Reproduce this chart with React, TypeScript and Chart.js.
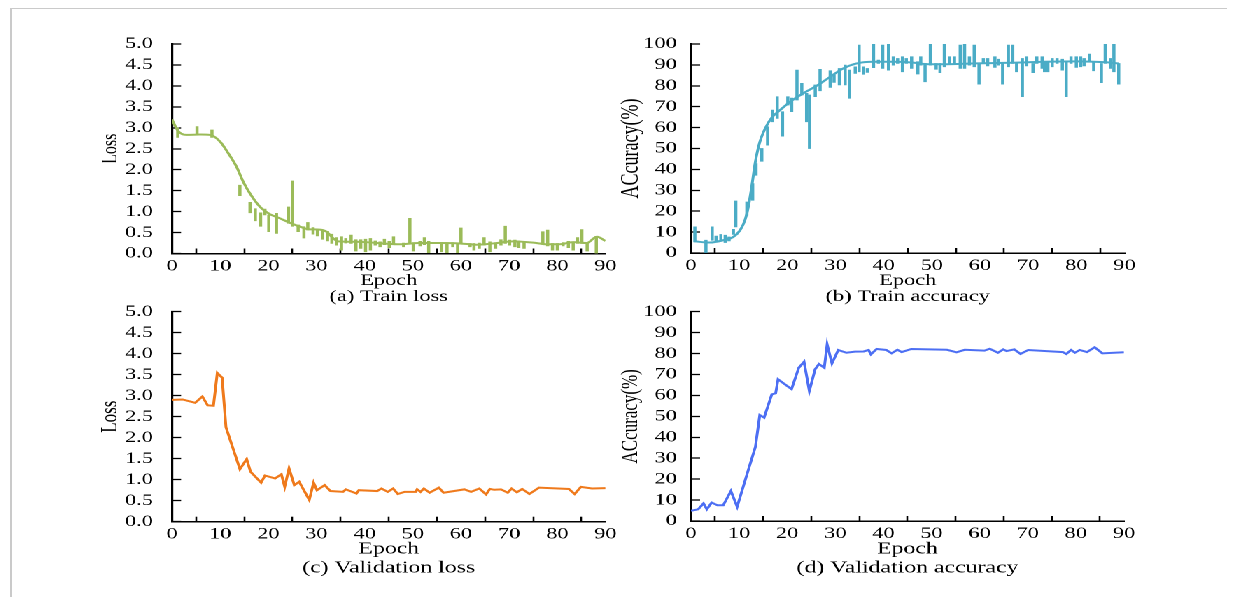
import React, { useEffect, useRef } from "react";
import { Chart, registerables } from "chart.js";

Chart.register(...registerables);

// ---------------- data ----------------
const epochMin = 0;
const epochMax = 90;
const epochStep = 10;

// (a) Train loss: smoothed curve
const trainLossCurveX = [0, 1.3, 3, 5.8, 7.9, 10, 11.7, 13.4, 14.8, 16.2, 18.3, 20.3, 22.4, 24.5, 26.6, 28.3, 30.7, 32.1, 33.5, 34.5, 37.6, 40.4, 43.9, 47.3, 51.5, 55.6, 59.8, 63.2, 66.7, 70.8, 75, 77.8, 80.5, 83.3, 86.1, 88.2, 90];
const trainLossCurveY = [3.2, 2.92, 2.83, 2.84, 2.83, 2.67, 2.39, 2.07, 1.71, 1.43, 1.11, 0.94, 0.84, 0.73, 0.64, 0.58, 0.57, 0.52, 0.36, 0.29, 0.28, 0.27, 0.24, 0.22, 0.25, 0.25, 0.24, 0.21, 0.24, 0.29, 0.26, 0.22, 0.22, 0.27, 0.25, 0.4, 0.3];
// (a) Train loss: per-epoch spread (vertical segments)
const trainLossBarX = [1.2, 5.2, 8.3, 14.1, 16.2, 17.3, 18.4, 19.3, 20.1, 21.7, 24.2, 25.0, 26.2, 27.4, 28.2, 29.3, 30.2, 31.3, 32.3, 33.2, 34.2, 35.2, 36.1, 37.2, 38.2, 39.2, 40.2, 41.2, 42.2, 43.2, 44.1, 45.1, 46.0, 48.1, 49.4, 50.1, 51.5, 52.4, 53.3, 56.0, 57.1, 58.3, 59.3, 60.0, 61.9, 62.7, 63.8, 64.8, 66.0, 67.2, 68.3, 69.2, 70.1, 71.2, 72.0, 73.1, 77.0, 78.0, 79.0, 80.0, 81.2, 82.3, 83.3, 84.2, 85.1, 86.2, 88.1];
const trainLossBarLow = [2.77, 2.83, 2.77, 1.38, 0.97, 0.78, 0.65, 0.92, 0.52, 0.48, 0.72, 0.65, 0.52, 0.37, 0.56, 0.46, 0.42, 0.34, 0.3, 0.24, 0.2, 0.08, 0.25, 0.24, 0.06, 0.12, 0.04, 0.08, 0.2, 0.16, 0.21, 0.14, 0.21, 0.16, 0.24, 0.06, 0.18, 0.21, 0.02, 0.04, 0.02, 0.16, 0.02, 0.24, 0.16, 0.08, 0.12, 0.2, 0.04, 0.12, 0.2, 0.24, 0.2, 0.16, 0.14, 0.12, 0.22, 0.18, 0.08, 0.08, 0.18, 0.14, 0.08, 0.24, 0.24, 0.06, 0.0];
const trainLossBarHigh = [3.0, 3.03, 2.95, 1.63, 1.22, 1.07, 0.97, 1.06, 0.92, 0.96, 1.11, 1.73, 0.68, 0.64, 0.74, 0.62, 0.57, 0.56, 0.53, 0.46, 0.38, 0.4, 0.36, 0.44, 0.33, 0.33, 0.34, 0.36, 0.3, 0.28, 0.34, 0.29, 0.4, 0.25, 0.84, 0.26, 0.29, 0.38, 0.29, 0.26, 0.26, 0.26, 0.24, 0.61, 0.24, 0.24, 0.25, 0.38, 0.28, 0.25, 0.33, 0.65, 0.32, 0.32, 0.3, 0.26, 0.52, 0.56, 0.24, 0.24, 0.26, 0.29, 0.26, 0.38, 0.57, 0.24, 0.41];

// (b) Train accuracy: smoothed curve
const trainAccCurveX = [0.7, 3.9, 6.7, 8.8, 10.2, 11.2, 11.9, 12.6, 13.3, 14.2, 15.4, 16.8, 18.5, 20.6, 23.3, 26.1, 28.9, 31.6, 34.4, 37.9, 42, 45.5, 48.9, 52.4, 59.3, 66.2, 73.2, 80.1, 85.7, 88.8];
const trainAccCurveY = [5.6, 5.0, 6.1, 7.7, 10.9, 15.7, 22, 31.6, 42.8, 52.4, 59.6, 64.9, 68.4, 72.4, 76.4, 80, 84.3, 88.3, 90.7, 91.5, 91.5, 91.2, 90.4, 90.3, 90.7, 91, 91.5, 91.7, 91.3, 90.7];
// (b) Train accuracy: per-epoch spread
const trainAccBarX = [0.8, 3.1, 4.4, 5.2, 6.2, 7.1, 7.9, 8.8, 9.3, 11.6, 12.8, 13.5, 14.7, 15.9, 16.9, 17.9, 19.0, 20.1, 20.9, 22.0, 23.0, 24.0, 24.6, 25.8, 26.8, 28.9, 29.7, 30.8, 32.0, 32.9, 34.1, 34.9, 35.8, 36.6, 37.9, 38.9, 39.8, 41.0, 42.0, 42.9, 43.9, 44.7, 45.8, 47.1, 47.7, 48.6, 49.7, 50.9, 51.7, 52.6, 53.7, 54.7, 55.9, 56.8, 57.8, 58.8, 59.8, 60.7, 61.6, 63.1, 63.8, 64.7, 65.9, 66.8, 67.6, 68.8, 69.7, 71.0, 71.8, 72.9, 73.4, 74.1, 75.0, 76.0, 77.1, 77.9, 78.9, 80.0, 80.9, 81.6, 82.7, 83.6, 85.2, 86.0, 87.1, 87.8, 88.8];
const trainAccBarLow = [5.3, 0, 6.1, 5.8, 6.4, 5.0, 5.8, 8.9, 12.5, 18.1, 25.2, 37.2, 43.9, 51.6, 62.8, 64.4, 55.9, 70.8, 67.6, 73.2, 75.6, 62.8, 50, 74.8, 77.6, 79.2, 81.6, 80.4, 80.4, 74, 85.9, 86.7, 85.5, 86.4, 88.7, 90.7, 88.3, 87.5, 89.9, 90.7, 86.7, 90.7, 88.3, 85.6, 89.9, 81.9, 89.9, 87.9, 86.3, 89.1, 90.7, 90.7, 88.3, 88.3, 89.9, 89.1, 80.8, 90.7, 89.5, 88.8, 89.9, 80.8, 89.1, 90.7, 86.7, 74.8, 89.5, 86.3, 90.7, 88.3, 86.7, 86.7, 89.1, 90.7, 87.5, 74.8, 90.7, 88.8, 89.1, 89.5, 91.5, 87.2, 81.5, 90.7, 88.3, 86.7, 80.8];
const trainAccBarHigh = [12.5, 6.1, 12.5, 8.1, 8.9, 8.5, 7.7, 11.3, 24.9, 24.4, 33.2, 42.8, 50, 60.4, 68.4, 74.8, 67.6, 74.8, 74.1, 87.5, 81.2, 76.4, 75.6, 80.4, 87.9, 87.2, 85.1, 88.3, 89.9, 87.5, 89.1, 99.5, 89.1, 88.3, 100, 92.3, 99.5, 100, 93.9, 93.1, 93.9, 93.1, 93.9, 91.5, 93.9, 90.7, 100, 90.7, 90.7, 100, 93.9, 93.9, 99.5, 100, 93.9, 99.5, 90.7, 93.1, 93.1, 93.9, 92.7, 90.7, 99.5, 99.5, 90.7, 93.1, 93.9, 90.7, 93.9, 93.9, 91.5, 91.5, 93.1, 93.1, 92.7, 91.5, 93.9, 93.9, 93.9, 93.1, 95.2, 91.5, 90.7, 100, 93.1, 100, 90.7];

// (c) Validation loss
const valLossX = [0, 2.2, 4.8, 6.3, 7.4, 8.6, 9.4, 10.4, 11.2, 14.1, 15.5, 16.3, 18.5, 19.3, 21.4, 22.7, 23.4, 24.3, 25.4, 26.4, 28.5, 29.4, 30.1, 31.7, 32.9, 35.5, 36.1, 38.3, 38.8, 42.6, 43.5, 44.8, 45.9, 46.9, 48.3, 50.6, 50.9, 51.6, 52.3, 53.5, 55.4, 56.4, 60.7, 62.1, 63.8, 65.2, 66.0, 66.9, 68.3, 69.7, 70.5, 71.6, 72.7, 74.2, 76.2, 82.4, 83.6, 84.9, 87.2, 90];
const valLossY = [2.9, 2.91, 2.83, 2.98, 2.77, 2.76, 3.54, 3.43, 2.25, 1.25, 1.49, 1.19, 0.93, 1.1, 1.03, 1.13, 0.83, 1.27, 0.87, 0.95, 0.52, 0.93, 0.75, 0.87, 0.73, 0.71, 0.77, 0.67, 0.75, 0.73, 0.79, 0.71, 0.79, 0.66, 0.71, 0.71, 0.77, 0.71, 0.79, 0.69, 0.81, 0.69, 0.77, 0.71, 0.79, 0.65, 0.78, 0.76, 0.77, 0.69, 0.79, 0.7, 0.78, 0.66, 0.81, 0.78, 0.66, 0.83, 0.79, 0.8];

// (d) Validation accuracy
const valAccX = [0, 1.5, 2.6, 3.3, 4.3, 5.5, 6.7, 8.3, 9.6, 11.6, 13.4, 14.3, 15.2, 16.8, 17.6, 18.1, 20.9, 22.4, 23.5, 24.6, 25.8, 26.6, 27.7, 28.3, 29.3, 30.6, 32.3, 34.1, 35.9, 36.9, 37.4, 38.6, 40.6, 41.7, 42.9, 43.8, 45.8, 53.2, 55.2, 56.9, 61.0, 62.1, 63.8, 64.9, 65.6, 67.2, 68.5, 70.1, 77.3, 78.0, 79.0, 79.8, 80.8, 82.3, 83.9, 85.5, 90];
const valAccY = [4.9, 5.6, 8.4, 5.6, 8.8, 7.5, 7.5, 14.3, 6.8, 22, 35.5, 50.6, 49.4, 60.5, 61, 67.7, 63, 73.2, 76.1, 62.1, 72.5, 75, 73.2, 84.4, 75.3, 81.7, 80.4, 80.9, 81, 81.7, 79.6, 82.2, 81.7, 80.1, 81.8, 80.7, 82.2, 81.8, 80.6, 81.8, 81.4, 82.3, 80.4, 82, 81.2, 82, 79.8, 81.7, 80.7, 79.8, 81.7, 80.4, 81.7, 80.7, 83, 80.1, 80.6];

// ---------------- styling ----------------
const FONT = "'Liberation Serif', 'Times New Roman', serif";
const CW = 871; // un-stretched canvas width
const CH = 589;
const SX = 1219 / CW; // horizontal stretch of the whole figure

const GREEN = "#9bbb59";
const TEAL = "#4bacc6";
const ORANGE = "#ef7a1c";
const BLUE = "#4d6ff3";
const TICK_SIZE = 16;

const pts = (xs: number[], ys: number[]) => xs.map((x, i) => ({ x, y: ys[i] }));
const bars = (xs: number[], lo: number[], hi: number[]) => xs.map((x, i) => ({ x, y: [lo[i], hi[i]] }));

interface PanelSpec {
  datasets: any[];
  yMax: number;
  yStep: number;
  yDecimals: number;
  yTitle: string;
  yTitleSize: number;
  caption: string;
  xTitleSize: number;
  xTitleLH: number;
  pad: { left: number; right: number; top: number; bottom: number };
  yAxisWidth: number;
  xAxisHeight: number;
  yLabelPad: number;
  xLabelPad: number;
}

function buildConfig(p: PanelSpec): any {
  return {
    type: "bar",
    data: { datasets: p.datasets },
    options: {
      animation: false,
      responsive: false,
      devicePixelRatio: 2,
      layout: { padding: p.pad },
      plugins: { legend: { display: false }, tooltip: { enabled: false }, title: { display: false } },
      scales: {
        x: {
          type: "linear",
          min: epochMin,
          max: epochMax,
          offset: false,
          ticks: {
            stepSize: epochStep,
            autoSkip: false,
            maxRotation: 0,
            color: "#000",
            padding: p.xLabelPad,
            font: { family: FONT, size: TICK_SIZE },
          },
          grid: {
            display: true,
            drawOnChartArea: false,
            drawTicks: true,
            tickLength: -5,
            tickColor: "#000",
            tickWidth: 1.3,
          },
          border: { display: true, color: "#000", width: 1.5 },
          title: {
            display: true,
            text: ["Epoch", p.caption],
            color: "#000",
            padding: 0,
            font: { family: FONT, size: p.xTitleSize, lineHeight: p.xTitleLH },
          },
          afterFit: (s: any) => {
            s.height = p.xAxisHeight;
          },
        },
        y: {
          type: "linear",
          min: 0,
          max: p.yMax,
          ticks: {
            stepSize: p.yStep,
            autoSkip: false,
            color: "#000",
            padding: p.yLabelPad,
            font: { family: FONT, size: TICK_SIZE },
            callback: (v: any) => Number(v).toFixed(p.yDecimals),
          },
          grid: {
            display: true,
            drawOnChartArea: false,
            drawTicks: true,
            tickLength: -6.5,
            tickColor: "#000",
            tickWidth: 1.3,
          },
          border: { display: true, color: "#000", width: 1.6 },
          title: {
            display: true,
            text: p.yTitle,
            color: "#000",
            padding: 0,
            font: { family: FONT, size: p.yTitleSize, lineHeight: 1.2 },
          },
          afterFit: (s: any) => {
            s.width = p.yAxisWidth;
          },
        },
      },
    },
  };
}

const panelA: PanelSpec = {
  datasets: [
    {
      type: "line",
      data: pts(trainLossCurveX, trainLossCurveY),
      borderColor: GREEN,
      borderWidth: 2,
      pointRadius: 0,
      cubicInterpolationMode: "monotone",
      order: 0,
    },
    {
      type: "bar",
      data: bars(trainLossBarX, trainLossBarLow, trainLossBarHigh),
      backgroundColor: GREEN,
      borderWidth: 0,
      barThickness: 1.6,
      grouped: false,
      order: 1,
    },
  ],
  yMax: 5,
  yStep: 0.5,
  yDecimals: 1,
  yTitle: "Loss",
  yTitleSize: 16,
  caption: "(a) Train loss",
  xTitleSize: 16,
  xTitleLH: 1.0,
  pad: { left: 63.6, right: 444.1, top: 36, bottom: 292 },
  yAxisWidth: 53.55,
  xAxisHeight: 51.5,
  yLabelPad: 20,
  xLabelPad: 8,
};

const panelB: PanelSpec = {
  datasets: [
    {
      type: "line",
      data: pts(trainAccCurveX, trainAccCurveY),
      borderColor: TEAL,
      borderWidth: 2,
      pointRadius: 0,
      cubicInterpolationMode: "monotone",
      order: 0,
    },
    {
      type: "bar",
      data: bars(trainAccBarX, trainAccBarLow, trainAccBarHigh),
      backgroundColor: TEAL,
      borderWidth: 0,
      barThickness: 1.6,
      grouped: false,
      order: 1,
    },
  ],
  yMax: 100,
  yStep: 10,
  yDecimals: 0,
  yTitle: "ACcuracy(%)",
  yTitleSize: 18,
  caption: "(b) Train accuracy",
  xTitleSize: 16,
  xTitleLH: 1.0,
  pad: { left: 434.7, right: 73.24, top: 36, bottom: 292.3 },
  yAxisWidth: 53.32,
  xAxisHeight: 51.7,
  yLabelPad: 16.5,
  xLabelPad: 8,
};

const panelC: PanelSpec = {
  datasets: [
    {
      type: "line",
      data: pts(valLossX, valLossY),
      borderColor: ORANGE,
      borderWidth: 2,
      pointRadius: 0,
      tension: 0,
    },
  ],
  yMax: 5,
  yStep: 0.5,
  yDecimals: 1,
  yTitle: "Loss",
  yTitleSize: 17,
  caption: "(c) Validation loss",
  xTitleSize: 17,
  xTitleLH: 1.12,
  pad: { left: 63.04, right: 444.1, top: 303.7, bottom: 19.5 },
  yAxisWidth: 54.14,
  xAxisHeight: 55.8,
  yLabelPad: 20,
  xLabelPad: 8,
};

const panelD: PanelSpec = {
  datasets: [
    {
      type: "line",
      data: pts(valAccX, valAccY),
      borderColor: BLUE,
      borderWidth: 2,
      pointRadius: 0,
      tension: 0,
    },
  ],
  yMax: 100,
  yStep: 10,
  yDecimals: 0,
  yTitle: "ACcuracy(%)",
  yTitleSize: 17,
  caption: "(d) Validation accuracy",
  xTitleSize: 17,
  xTitleLH: 1.12,
  pad: { left: 434.8, right: 73.6, top: 303.7, bottom: 19.5 },
  yAxisWidth: 53.2,
  xAxisHeight: 56.5,
  yLabelPad: 16.5,
  xLabelPad: 8,
};

function Panel({ spec }: { spec: PanelSpec }) {
  const ref = useRef<HTMLCanvasElement | null>(null);
  useEffect(() => {
    if (!ref.current) return;
    const chart = new Chart(ref.current, buildConfig(spec));
    return () => chart.destroy();
  }, [spec]);
  return (
    <canvas
      ref={ref}
      width={CW}
      height={CH}
      style={{ position: "absolute", left: 0, top: 0, width: CW, height: CH }}
    />
  );
}

export default function App() {
  return (
    <div style={{ position: "relative", width: 1219, height: CH }}>
      <div
        style={{
          position: "absolute",
          left: 2,
          top: -1,
          width: 1217,
          height: 590,
          borderTop: "2px solid #cacaca",
          borderLeft: "2px solid #cacaca",
          boxSizing: "border-box",
        }}
      />
      <div
        style={{
          position: "absolute",
          left: 0,
          top: 0,
          width: CW,
          height: CH,
          transform: `scaleX(${SX})`,
          transformOrigin: "0 0",
        }}
      >
        <Panel spec={panelA} />
        <Panel spec={panelB} />
        <Panel spec={panelC} />
        <Panel spec={panelD} />
      </div>
    </div>
  );
}
